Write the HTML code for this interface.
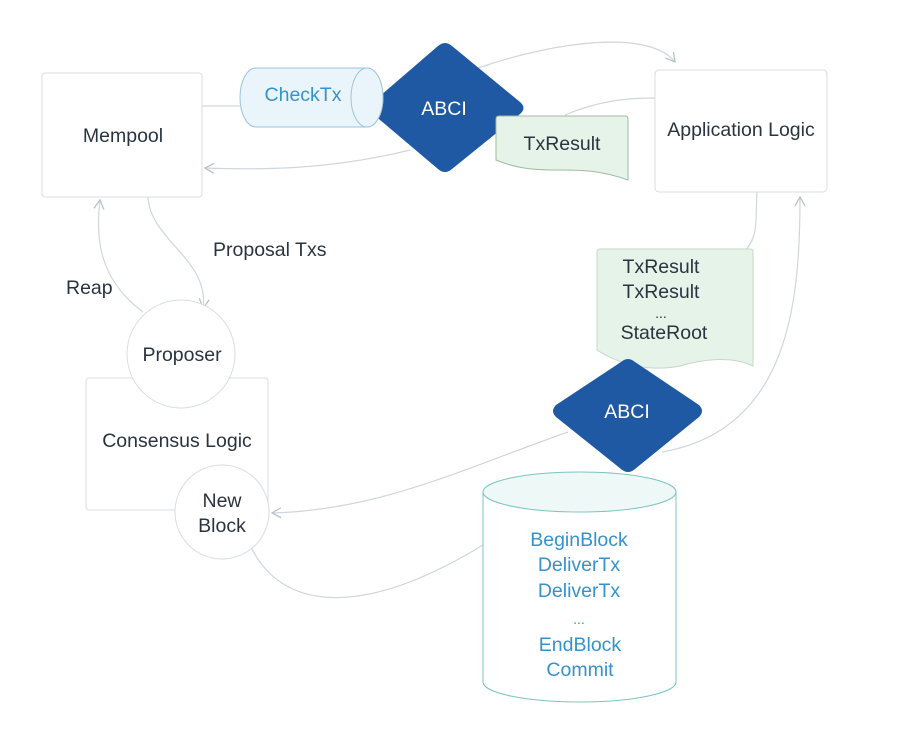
<!DOCTYPE html>
<html><head><meta charset="utf-8"><style>
body{margin:0;background:#fff;}
svg{display:block;font-family:"Liberation Sans",sans-serif;}
</style></head><body>
<svg width="911" height="734" viewBox="0 0 911 734" xmlns="http://www.w3.org/2000/svg">
<defs>
<marker id="ar" markerWidth="12" markerHeight="12" refX="10" refY="6" orient="auto" markerUnits="userSpaceOnUse">
<path d="M1,1 L10,6 L1,11" fill="none" stroke="#b8c2cc" stroke-width="1.3"/>
</marker>
</defs>
<g fill="none" stroke="#cfd6dc" stroke-width="1.2">
<path d="M202,106 L240,106"/>
<path d="M410,150 C330,170 260,170 205,168" marker-end="url(#ar)"/>
<path d="M478,68 C560,40 650,30 675,62" marker-end="url(#ar)"/>
<path d="M565,115 C600,100 630,98 655,98"/>
<path d="M148,197 C150,240 210,260 203,308" marker-end="url(#ar)"/>
<path d="M143,312 C100,280 95,240 100,200" marker-end="url(#ar)"/>
<path d="M757,192 C755,220 760,240 740,255"/>
<path d="M662,452 C790,430 800,300 800,197" marker-end="url(#ar)"/>
<path d="M568,432 C460,470 380,510 272,513" marker-end="url(#ar)"/>
<path d="M250,545 C280,610 360,620 483,545"/>
</g>
<rect x="42" y="73" width="160" height="124" rx="3" fill="#fff" stroke="#d8dde2"/>
<text x="123" y="142" font-size="19.5" fill="#2a3440" text-anchor="middle">Mempool</text>
<rect x="655" y="70" width="172" height="122" rx="4" fill="#fff" stroke="#d8dde2"/>
<text x="741" y="136" font-size="19.5" fill="#2a3440" text-anchor="middle">Application Logic</text>
<!-- ABCI 1 -->
<path d="M438,46 Q445,40 452,46 L520,102 Q527,108 520,114 L452,169 Q445,175 438,169 L373,114 Q366,108 373,102 Z" fill="#1f58a3"/>
<text x="444" y="115" font-size="19.5" fill="#fff" text-anchor="middle">ABCI</text>
<!-- CheckTx cylinder -->
<path d="M256,68 L367,68 A16,29.5 0 0 1 367,127 L256,127 A16,29.5 0 0 1 256,68 Z" fill="#eaf5fb" stroke="#9cc4dc"/>
<ellipse cx="367" cy="97.5" rx="16" ry="29.5" fill="#eaf5fb" stroke="#9cc4dc"/>
<text x="303" y="101" font-size="19.5" fill="#3592cc" text-anchor="middle">CheckTx</text>
<!-- TxResult doc -->
<path d="M499,116 L625,116 Q628,116 628,119 L628,180 C600,170 580,170 560,170 C540,170 520,170 496,160 L496,119 Q496,116 499,116 Z" fill="#e6f3e8" stroke="#9cbca4"/>
<text x="562" y="150" font-size="19.5" fill="#2a3440" text-anchor="middle">TxResult</text>
<!-- Doc 2 -->
<path d="M600,249 L750,249 Q753,249 753,252 L753,366 C730,355 700,360 680,366 C650,372 620,365 597,350 L597,252 Q597,249 600,249 Z" fill="#e6f3e8" stroke="#c4d8c8"/>
<g font-size="19.5" fill="#2a3440" text-anchor="middle">
<text x="661" y="273">TxResult</text>
<text x="661" y="298">TxResult</text>
<text x="661" y="318" font-size="14">...</text>
<text x="664" y="339">StateRoot</text>
</g>
<!-- ABCI 2 -->
<path d="M621,362 Q628,356 635,362 L699,405 Q705,411 699,417 L635,469 Q628,475 621,469 L556,417 Q550,411 556,405 Z" fill="#1f58a3"/>
<text x="627" y="418" font-size="19.5" fill="#fff" text-anchor="middle">ABCI</text>
<!-- Cylinder -->
<path d="M483,492 L483,682 A96.5,20 0 0 0 676,682 L676,492" fill="#fff" stroke="#7cc4c0"/>
<ellipse cx="579.5" cy="492" rx="96.5" ry="20" fill="#eef8f7" stroke="#7cc4c0"/>
<g font-size="19.5" fill="#3592cc" text-anchor="middle">
<text x="579" y="546">BeginBlock</text>
<text x="579" y="571">DeliverTx</text>
<text x="579" y="597">DeliverTx</text>
<text x="579" y="624" font-size="14">...</text>
<text x="580" y="651">EndBlock</text>
<text x="580" y="676">Commit</text>
</g>
<rect x="86" y="378" width="182" height="132" rx="3" fill="#fff" stroke="#d8dde2"/>
<text x="177" y="447" font-size="19.5" fill="#2a3440" text-anchor="middle">Consensus Logic</text>
<circle cx="181" cy="354" r="54" fill="#fff" stroke="#d8dde2"/>
<text x="182" y="361" font-size="19.5" fill="#2a3440" text-anchor="middle">Proposer</text>
<circle cx="222" cy="512" r="47" fill="#fff" stroke="#d8dde2"/>
<text x="222" y="507" font-size="19.5" fill="#2a3440" text-anchor="middle">New</text>
<text x="222" y="532" font-size="19.5" fill="#2a3440" text-anchor="middle">Block</text>
<text x="213" y="256" font-size="19.5" fill="#2a3440">Proposal Txs</text>
<text x="66" y="294" font-size="19.5" fill="#2a3440">Reap</text>
</svg>
</body></html>
